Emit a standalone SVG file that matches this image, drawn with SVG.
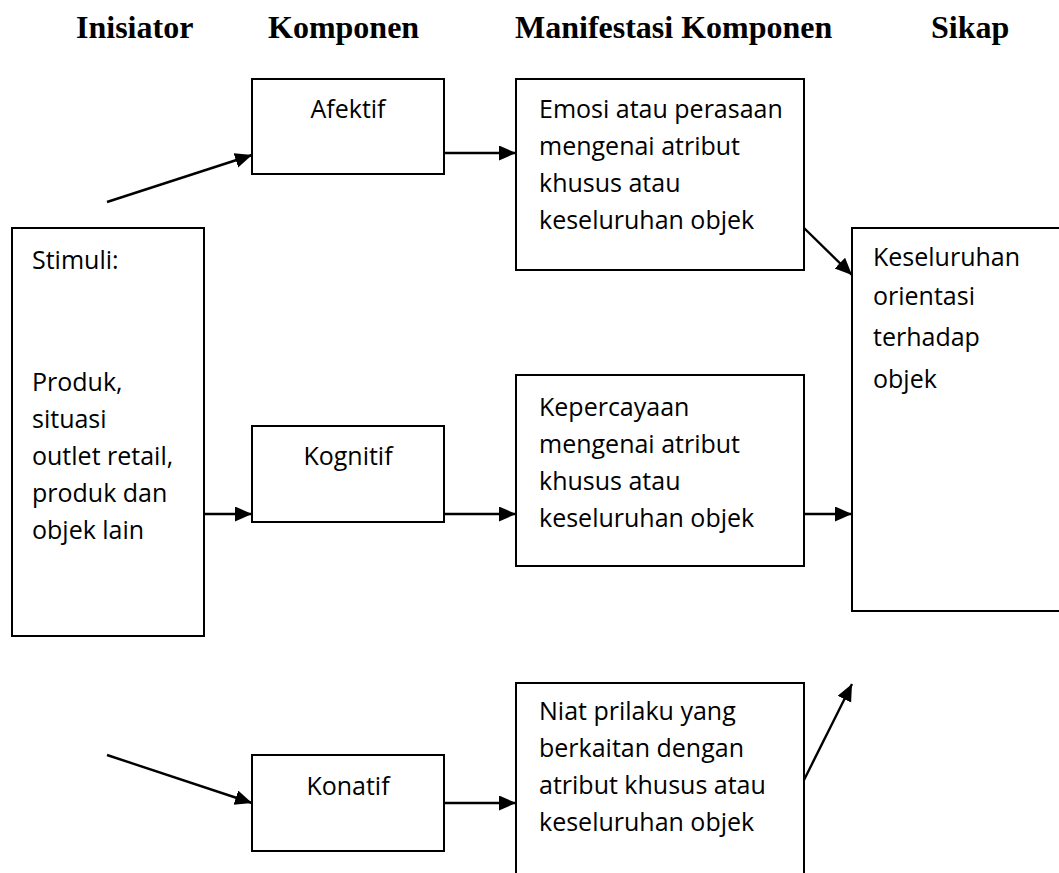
<svg xmlns="http://www.w3.org/2000/svg" width="1059" height="873" viewBox="0 0 1059 873">
<defs>
<style>
.box{fill:#fff;stroke:#000;stroke-width:2}
.hdr{font-family:"Liberation Serif","Times New Roman",serif;font-weight:bold;font-size:32px;fill:#000}
.t{font-family:"Open Sans","Noto Sans",sans-serif;font-size:25px;fill:#000}
.c{text-anchor:middle}
.con{stroke:#000;stroke-width:2.4;fill:none;marker-end:url(#ah)}
</style>
<marker id="ah" markerUnits="userSpaceOnUse" markerWidth="18" markerHeight="16" refX="17" refY="7.5" orient="auto">
<path d="M0,0 L17,7.5 L0,15 z" fill="#000"/>
</marker>
</defs>
<rect width="1059" height="873" fill="#fff"/>
<g id="headers">
<text class="hdr" x="76" y="38">Inisiator</text>
<text class="hdr" x="268" y="38">Komponen</text>
<text class="hdr" x="515" y="38">Manifestasi Komponen</text>
<text class="hdr" x="931" y="38">Sikap</text>
</g>
<g id="stimuli">
<rect class="box" x="12" y="228" width="192" height="408"/>
<text class="t" x="32" y="269">Stimuli:</text>
<text class="t" x="32" y="391">Produk,</text>
<text class="t" x="32" y="428">situasi</text>
<text class="t" x="32" y="465">outlet retail,</text>
<text class="t" x="32" y="502">produk dan</text>
<text class="t" x="32" y="539">objek lain</text>
</g>
<g id="afektif">
<rect class="box" x="252" y="79" width="192" height="95"/>
<text class="t c" x="348" y="118">Afektif</text>
</g>
<g id="kognitif">
<rect class="box" x="252" y="426" width="192" height="96"/>
<text class="t c" x="348" y="465">Kognitif</text>
</g>
<g id="konatif">
<rect class="box" x="252" y="755" width="192" height="96"/>
<text class="t c" x="348" y="795">Konatif</text>
</g>
<g id="emosi">
<rect class="box" x="516" y="79" width="288" height="191"/>
<text class="t" x="539" y="118">Emosi atau perasaan</text>
<text class="t" x="539" y="155">mengenai atribut</text>
<text class="t" x="539" y="192">khusus atau</text>
<text class="t" x="539" y="229">keseluruhan objek</text>
</g>
<g id="kepercayaan">
<rect class="box" x="516" y="375" width="288" height="191"/>
<text class="t" x="539" y="416">Kepercayaan</text>
<text class="t" x="539" y="453">mengenai atribut</text>
<text class="t" x="539" y="490">khusus atau</text>
<text class="t" x="539" y="527">keseluruhan objek</text>
</g>
<g id="niat">
<rect class="box" x="516" y="683" width="288" height="200"/>
<text class="t" x="539" y="720">Niat prilaku yang</text>
<text class="t" x="539" y="757">berkaitan dengan</text>
<text class="t" x="539" y="794">atribut khusus atau</text>
<text class="t" x="539" y="831">keseluruhan objek</text>
</g>
<g id="sikap">
<rect class="box" x="852" y="228" width="215" height="383"/>
<text class="t" x="873" y="266">Keseluruhan</text>
<text class="t" x="873" y="305">orientasi</text>
<text class="t" x="873" y="346">terhadap</text>
<text class="t" x="873" y="388">objek</text>
</g>
<g id="connectors">
<line class="con" x1="107" y1="202" x2="252" y2="155"/>
<line class="con" x1="444" y1="153" x2="516" y2="153"/>
<line class="con" x1="804" y1="228" x2="852" y2="275"/>
<line class="con" x1="204" y1="514" x2="252" y2="514"/>
<line class="con" x1="444" y1="514" x2="516" y2="514"/>
<line class="con" x1="804" y1="514" x2="852" y2="514"/>
<line class="con" x1="107" y1="755" x2="252" y2="803"/>
<line class="con" x1="444" y1="803" x2="516" y2="803"/>
<line class="con" x1="804" y1="780" x2="852" y2="684"/>
</g>
</svg>
